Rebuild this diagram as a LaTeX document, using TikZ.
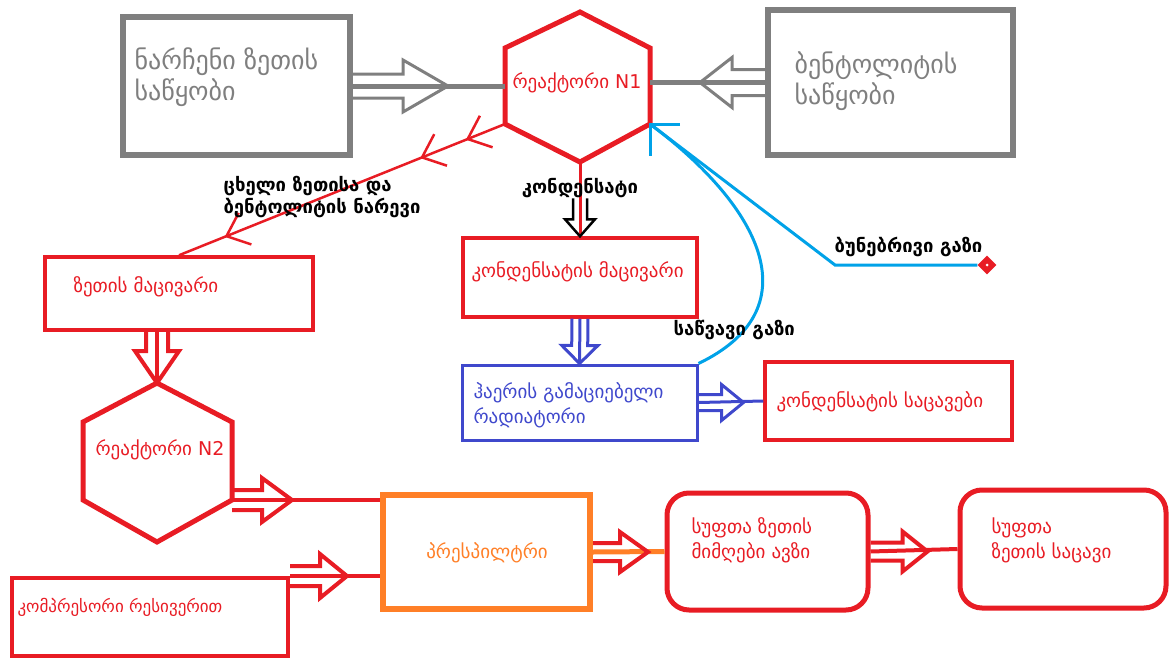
\documentclass[tikz,border=0pt]{standalone}
\usepackage{fontspec}
\setmainfont{DejaVu Sans}
\usetikzlibrary{calc,fit,shapes.geometric,arrows.meta,decorations.markings}

\definecolor{rd}{RGB}{232,28,36}
\definecolor{gry}{RGB}{127,127,127}
\definecolor{ind}{RGB}{63,72,204}
\definecolor{sky}{RGB}{0,162,232}
\definecolor{orng}{RGB}{255,127,39}

% hollow block arrow: style, tail, tip, head length, half shaft, half head
\newcommand{\fatarrow}[6][]{%
  \coordinate (fa) at ($(#3)!#4!(#2)$);
  \draw[#1] ($(#2)!#5!90:(#3)$) -- ($(fa)!#5!90:(#3)$) -- ($(fa)!#6!90:(#3)$) -- (#3)
    -- ($(fa)!#6!-90:(#3)$) -- ($(fa)!#5!-90:(#3)$) -- ($(#2)!#5!-90:(#3)$);
}

\tikzset{
  graybox/.style={draw=gry, line width=6pt, inner sep=0pt},
  redbox/.style={draw=rd, line width=3.5pt, inner sep=0pt},
  roundbox/.style={draw=rd, line width=5pt, inner sep=0pt, rounded corners=22pt},
  bluebox/.style={draw=ind, line width=3pt, inner sep=0pt},
  orangebox/.style={draw=orng, line width=6pt, inner sep=0pt},
  hexred/.style={draw=rd, line width=5pt},
  graytxt/.style={text=gry, font=\fontsize{26}{31}\selectfont, align=left},
  redtxt/.style={text=rd, font=\fontsize{19}{25}\selectfont, align=left},
  lbl/.style={font=\bfseries\fontsize{18.5}{22}\selectfont, align=left},
}

\begin{document}
\begin{tikzpicture}[x=1pt, y=-1pt]
\useasboundingbox (0,0) rectangle (1171,659);

% saqyobebi
\node[graybox, fit={(123,17) (350,155)}] (store1) {};
\node[graybox, fit={(768,10) (1013,155)}] (store2) {};
\node[graytxt, anchor=west] (store1t) at (131,77) {ნარჩენი ზეთის\\საწყობი};
\node[graytxt, anchor=west] (store2t) at (791,81) {ბენტოლიტის\\საწყობი};

% reaqtori N1
\draw[hexred] (580,12) coordinate (r1n) -- (650,48) coordinate (r1ne) -- (650,124) coordinate (r1se)
  -- (580,162) coordinate (r1s) -- (505,124) coordinate (r1sw) -- (505,48) coordinate (r1nw) -- cycle;
\node[redtxt] (r1) at (577,83) {რეაქტორი N1};
\coordinate (r1w) at (store1.east -| r1nw);
\coordinate (r1e) at (store2.west -| r1ne);

% nedleuli
\draw[gry, line width=5pt] (store1.east) -- (r1w);
\draw[gry, line width=5pt] (store2.west) -- (r1e);
\coordinate (a1) at ($(store1.east)+(95,0)$);
\coordinate (a2) at ($(store2.west)+(-65,0)$);
\fatarrow[gry, line width=3pt]{store1.east}{a1}{45pt}{12pt}{26pt}
\fatarrow[gry, line width=3pt]{store2.west}{a2}{32pt}{13pt}{25pt}

% macivrebi
\node[redbox, fit={(45,257) (313,330)}] (oilcool) {};
\node[redtxt, anchor=west] (oilcoolt) at (70,287) {ზეთის მაცივარი};
\node[redbox, fit={(463,238) (697,317)}] (ccool) {};
\node[redtxt, anchor=west] (ccoolt) at (468,272) {კონდენსატის მაცივარი};

% cxeli narevi
\draw[rd, line width=2.5pt, postaction={decorate}, decoration={markings,
  mark=at position 0.12 with {\arrow{Straight Barb[length=20pt,width=34pt]}},
  mark=at position 0.26 with {\arrow{Straight Barb[length=20pt,width=34pt]}},
  mark=at position 0.86 with {\arrow{Straight Barb[length=20pt,width=34pt]}}}]
  (r1sw) -- (oilcool.north);
\node[lbl, anchor=west] (mixl) at (220,197) {ცხელი ზეთისა და\\ბენტოლიტის ნარევი};

% kondensati
\draw[rd, line width=3pt] (r1s) -- (ccool.north);
\node[lbl] (condl) at (580,188) {კონდენსატი};
\coordinate (a3) at ($(ccool.north)+(0,-38)$);
\fatarrow[black, line width=2.5pt]{a3}{ccool.north}{17pt}{7pt}{15pt}

% radiatori
\node[bluebox, fit={(462,365) (697,440)}] (rad) {};
\node[redtxt, text=ind, anchor=west] (radt) at (470,405) {ჰაერის გამაციებელი\\რადიატორი};
\draw[ind, line width=3pt] (ccool.south) -- (rad.north);
\fatarrow[ind, line width=3pt]{ccool.south}{rad.north}{18pt}{8pt}{18pt}

\node[redbox, fit={(765,362) (1012,440)}] (cstore) {};
\node[redtxt, anchor=west] (cstoret) at (773,402) {კონდენსატის საცავები};
\draw[ind, line width=3pt] (rad.east) -- (cstore.west);
\coordinate (a4) at ($(rad.east)+(45,0)$);
\fatarrow[ind, line width=3pt]{rad.east}{a4}{22pt}{8pt}{18pt}

% gazi
\node[diamond, fill=rd, minimum size=19pt, inner sep=0pt] (src) at (987,265) {};
\fill[white] (src.center) circle (1.5pt);
\coordinate (bend) at (835,265);
\draw[sky, line width=3pt] (src.west) -- (bend) -- (r1se);
\draw[sky, line width=3pt] ($(r1se)+(30,0)$) -- (r1se) -- ($(r1se)+(0,32)$);
\node[lbl, anchor=west] (ngl) at (831,247) {ბუნებრივი გაზი};
\draw[sky, line width=3pt] (rad.north east) .. controls (810,310) and (765,210) .. (r1se);
\node[lbl, anchor=west] (fgl) at (670,330) {საწვავი გაზი};

% reaqtori N2
\draw[hexred] (157,383) coordinate (r2n) -- (232,422) coordinate (r2ne) -- (232,500) coordinate (r2se)
  -- (157,542) coordinate (r2s) -- (83,500) coordinate (r2sw) -- (83,422) coordinate (r2nw) -- cycle;
\node[redtxt] (r2) at (160,450) {რეაქტორი N2};
\coordinate (a5t) at (oilcool.south -| r2n);
\draw[rd, line width=4pt] (a5t) -- (r2n);
\fatarrow[rd, line width=4pt]{a5t}{r2n}{32pt}{11pt}{22pt}

% presfiltri da kompresori
\node[orangebox, fit={(383,495) (590,609)}] (pre) {};
\node[redtxt, text=orng] (pret) at (487,553) {პრესპილტრი};
\node[redbox, line width=4pt, fit={(12,578) (288,656)}] (comp) {};
\node[redtxt, font=\fontsize{17}{22}\selectfont, anchor=west] (compt) at (14,607) {კომპრესორი რესივერით};

\coordinate (a6s) at (r2se -| pre.west);
\draw[rd, line width=4pt] (r2se) -- (a6s);
\coordinate (a6) at ($(r2se)+(60,0)$);
\fatarrow[rd, line width=4pt]{r2se}{a6}{30pt}{10pt}{22pt}

\coordinate (a7s) at (comp.north east -| pre.west);
\draw[rd, line width=4pt] (comp.north east) -- (a7s);
\coordinate (a7) at ($(comp.north east)+(57,0)$);
\fatarrow[rd, line width=4pt]{comp.north east}{a7}{27pt}{10pt}{22pt}

% sufta zeti
\node[roundbox, fit={(667,493) (868,610)}] (recv) {};
\node[redtxt, anchor=west] (recvt) at (688,540) {სუფთა ზეთის\\მიმღები ავზი};
\node[roundbox, fit={(960,490) (1166,608)}] (store3) {};
\node[redtxt, anchor=west] (store3t) at (988,540) {სუფთა\\ზეთის საცავი};

\draw[orng, line width=5pt] (pre.east) -- (recv.west);
\coordinate (a8) at ($(pre.east)+(55,0)$);
\fatarrow[rd, line width=4pt]{pre.east}{a8}{28pt}{9pt}{20pt}
\draw[rd, line width=4pt] (recv.east) -- (store3.west);
\coordinate (a9) at ($(recv.east)+(57,0)$);
\fatarrow[rd, line width=4pt]{recv.east}{a9}{25pt}{9pt}{20pt}
\end{tikzpicture}
\end{document}
